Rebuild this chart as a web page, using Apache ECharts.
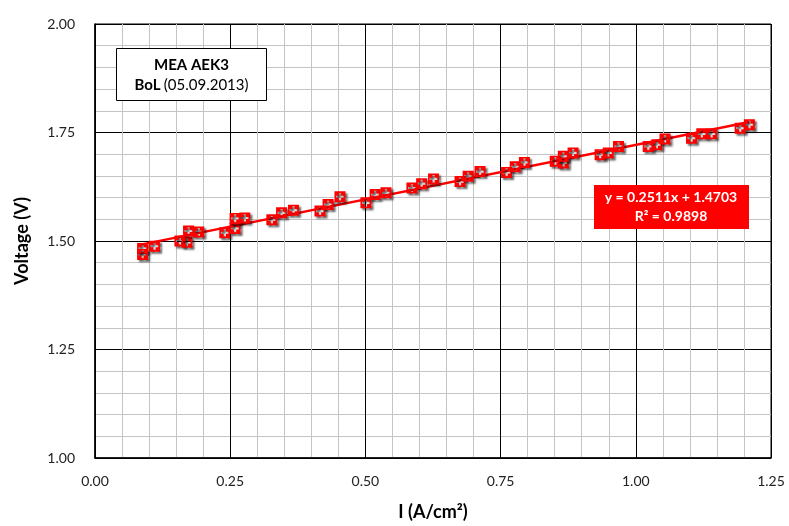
<!DOCTYPE html>
<html>
<head>
<meta charset="utf-8">
<script src="https://cdn.jsdelivr.net/npm/echarts@6/dist/echarts.min.js"></script>
<style>
  html, body { margin: 0; padding: 0; background: #fff; }
  #chart { width: 789px; height: 526px; }
</style>
</head>
<body>
<div id="chart"></div>
<script>
// measured current density (A/cm2) and cell voltage (V)
const current = [
  0.088, 0.088, 0.110, 0.157, 0.170, 0.173, 0.192, 0.240, 0.259, 0.259, 0.277,
  0.327, 0.345, 0.367, 0.416, 0.431, 0.453, 0.501, 0.518, 0.538,
  0.586, 0.604, 0.626, 0.675, 0.690, 0.712, 0.761, 0.777, 0.794,
  0.851, 0.866, 0.866, 0.884, 0.934, 0.949, 0.968, 1.023, 1.039, 1.054,
  1.103, 1.122, 1.140, 1.193, 1.210
]
const voltage = [
  1.483, 1.469, 1.488, 1.500, 1.497, 1.523, 1.521, 1.519, 1.529, 1.552, 1.553,
  1.549, 1.565, 1.571, 1.569, 1.584, 1.602, 1.588, 1.607, 1.611,
  1.622, 1.632, 1.643, 1.637, 1.649, 1.660, 1.658, 1.671, 1.681,
  1.684, 1.680, 1.695, 1.703, 1.699, 1.703, 1.718, 1.718, 1.722, 1.735,
  1.737, 1.747, 1.747, 1.760, 1.768
]
// linear trend line shown in the chart
const slope = 0.2511
const intercept = 1.4703
const trendX = [0.085, 1.21]

const xTicks = { min: 0, max: 1.25, interval: 0.25 }
const yTicks = { min: 1.0, max: 2.0, interval: 0.25 }

const points = current.map((c, i) => [c, voltage[i]])
const trend = trendX.map(x => [x, slope * x + intercept])

// red square with a white plus cut out of it
const markerPath = 'path://M0 0 H10 V10 H0 Z M4 1.5 V4 H1.5 V6 H4 V8.5 H6 V6 H8.5 V4 H6 V1.5 Z'

const font = 'Lato, "Open Sans", sans-serif'

const chart = echarts.init(document.getElementById('chart'))
chart.setOption({
  animation: false,
  backgroundColor: '#fff',
  grid: { left: 95, right: 18, top: 24, bottom: 67, show: true, borderColor: '#000', borderWidth: 1 },
  xAxis: {
    type: 'value',
    min: xTicks.min, max: xTicks.max, interval: xTicks.interval,
    name: 'I (A/cm²)',
    nameLocation: 'middle',
    nameGap: 45,
    nameTextStyle: { fontFamily: font, fontWeight: 'bold', fontSize: 18, color: '#000' },
    axisLine: { lineStyle: { color: '#000', width: 1.5 } },
    axisTick: { show: false },
    axisLabel: { fontFamily: font, fontSize: 14, color: '#222', margin: 16, formatter: v => v.toFixed(2) },
    splitLine: { lineStyle: { color: '#000', width: 1 } },
    minorTick: { show: false, splitNumber: 5 },
    minorSplitLine: { show: true, lineStyle: { color: '#c4c4c4', width: 1 } }
  },
  yAxis: {
    type: 'value',
    min: yTicks.min, max: yTicks.max, interval: yTicks.interval,
    name: 'Voltage (V)',
    nameLocation: 'middle',
    nameGap: 64,
    nameTextStyle: { fontFamily: font, fontWeight: 'bold', fontSize: 18, color: '#000' },
    axisLine: { show: true, lineStyle: { color: '#000', width: 1.5 } },
    axisTick: { show: false },
    axisLabel: { fontFamily: font, fontSize: 14, color: '#222', margin: 20, formatter: v => v.toFixed(2) },
    splitLine: { lineStyle: { color: '#000', width: 1 } },
    minorTick: { show: false, splitNumber: 5 },
    minorSplitLine: { show: true, lineStyle: { color: '#c4c4c4', width: 1 } }
  },
  series: [
    {
      type: 'line',
      data: trend,
      symbol: 'none',
      lineStyle: { color: '#ff0000', width: 2.5 },
      z: 3
    },
    {
      type: 'scatter',
      data: points,
      symbol: markerPath,
      symbolSize: 11,
      itemStyle: {
        color: '#ff0000',
        opacity: 1,
        shadowColor: 'rgba(0,0,0,0.6)',
        shadowBlur: 2,
        shadowOffsetX: 2,
        shadowOffsetY: 2
      },
      emphasis: { disabled: true },
      z: 4
    }
  ],
  graphic: [
    {
      type: 'group',
      left: 116, top: 48,
      z: 100,
      children: [
        { type: 'rect', z: 100, shape: { x: 0, y: 0, width: 150, height: 52 },
          style: { fill: '#fff', stroke: '#000', lineWidth: 1 } },
        { type: 'text', z: 101, x: 75, y: 9,
          style: { text: 'MEA AEK3', fontFamily: font, fontWeight: 'bold', fontSize: 15, fill: '#000', align: 'center' } },
        { type: 'text', z: 101, x: 75, y: 29,
          style: { text: '{b|BoL} {n|(05.09.2013)}', align: 'center',
            rich: {
              b: { fontFamily: font, fontWeight: 'bold', fontSize: 15, color: '#000' },
              n: { fontFamily: font, fontSize: 15, color: '#000' }
            } } }
      ]
    },
    {
      type: 'group',
      left: 594, top: 185,
      z: 100,
      children: [
        { type: 'rect', z: 100, shape: { x: 0, y: 0, width: 155, height: 44 }, style: { fill: '#ff0000' } },
        { type: 'text', z: 101, x: 77, y: 5,
          style: { text: 'y = 0.2511x + 1.4703', fontFamily: font, fontWeight: 'bold', fontSize: 14, fill: '#fff', align: 'center' } },
        { type: 'text', z: 101, x: 77, y: 24,
          style: { text: 'R² = 0.9898', fontFamily: font, fontWeight: 'bold', fontSize: 14, fill: '#fff', align: 'center' } }
      ]
    }
  ]
})
</script>
</body>
</html>
